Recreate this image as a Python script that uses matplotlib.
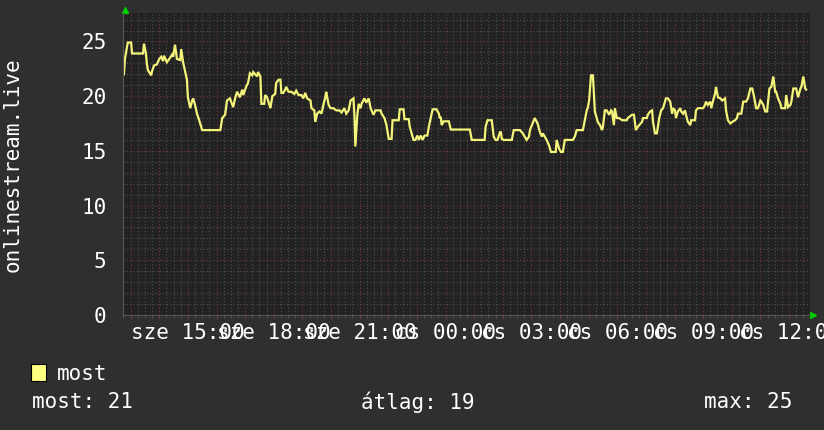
import matplotlib
matplotlib.use('Agg')
import matplotlib.pyplot as plt
from matplotlib.patches import Patch
from matplotlib.ticker import FixedLocator, MultipleLocator

# ---------------- data ----------------
chart_start = 12 * 60 + 44          # chart starts at 12:44 (minutes of day)
chart_span = 24 * 60                # 24 hours shown

minutes_a = [2, 4, 6, 10, 17, 19, 42, 44, 48, 50, 52, 59, 61, 65, 71, 76, 80, 84, 86, 92,
             97, 103, 105, 109, 113, 120, 122, 126, 128, 134, 136, 141, 145, 147, 151, 155, 159, 166, 204, 208,
             214, 218, 224, 231, 235, 239, 245, 250, 252, 258, 262, 266, 271, 273, 281, 283]
users_a = [22.0, 23.4, 23.9, 24.9, 24.9, 23.9, 23.9, 24.8, 23.9, 23.0, 22.4, 21.9, 22.3, 22.8, 22.9, 23.4, 23.6, 23.2, 23.7, 23.1,
           23.4, 23.8, 23.6, 24.7, 23.4, 23.3, 24.3, 23.1, 22.7, 21.5, 19.9, 18.9, 19.6, 19.8, 19.2, 18.4, 17.9, 16.9, 16.9, 18.0,
           18.3, 19.6, 19.8, 19.0, 19.8, 20.4, 19.9, 20.6, 20.1, 20.85, 21.2, 22.1, 21.9, 22.2, 21.8, 22.2]

minutes_b = [288, 290, 296, 298, 302, 309, 313, 319, 321, 326, 330, 332, 336, 340, 342, 347, 353, 359, 363, 368,
             374, 378, 382, 386, 393, 395, 401, 403, 407, 412, 416, 420, 424, 426, 431, 435, 441, 447, 454, 458,
             464, 468, 473, 477, 483, 485, 487, 491, 494, 498, 500, 506, 510, 515, 519, 521, 525, 529, 540, 542,
             548, 552, 557, 563, 565, 578]
users_b = [21.8, 19.3, 19.3, 20.1, 19.9, 18.9, 20.0, 20.2, 21.2, 21.5, 21.5, 20.3, 20.3, 20.6, 20.85, 20.4, 20.4, 20.2, 20.5, 20.1,
           20.1, 19.8, 20.3, 19.8, 19.6, 18.9, 18.7, 17.65, 18.4, 18.6, 18.4, 19.2, 19.9, 20.4, 19.2, 18.9, 18.9, 18.7, 18.7, 18.5,
           18.9, 18.4, 18.7, 19.6, 19.8, 18.4, 15.4, 18.2, 19.3, 18.9, 19.3, 19.8, 19.4, 19.8, 18.9, 18.7, 18.3, 18.7, 18.7, 18.4,
           18.0, 17.4, 16.1, 16.1, 17.8, 17.8]

minutes_c = [580, 588, 590, 599, 601, 609, 613, 617, 620, 624, 628, 632, 638, 641, 645, 649, 657, 662, 664, 666,
             668, 672, 683, 687, 727, 731, 758, 760, 764, 773, 777, 781, 785, 790, 792, 794, 798, 815, 819, 832,
             838, 846, 851, 853, 857, 861]
users_c = [18.8, 18.8, 17.9, 17.9, 17.2, 16.0, 16.0, 16.4, 16.0, 16.4, 16.0, 16.4, 16.4, 17.2, 18.0, 18.8, 18.8, 18.4, 18.0, 18.1,
           17.35, 17.7, 17.7, 16.95, 16.95, 16.0, 16.0, 17.2, 17.8, 17.8, 16.3, 16.0, 16.0, 16.7, 16.7, 16.1, 16.0, 16.0, 16.9, 16.9,
           16.6, 16.0, 16.3, 16.9, 17.35, 17.8]

minutes_d = [863, 869, 874, 878, 880, 884, 888, 893, 897, 907, 909, 914, 918, 922, 926, 943, 947, 951, 964, 968,
             972, 974, 977, 981, 985, 987, 989, 993, 995, 1000, 1004, 1006, 1010, 1014, 1019, 1023, 1025, 1029, 1031, 1035,
             1040, 1046, 1056, 1058, 1067, 1071, 1075, 1079, 1088, 1090, 1098, 1100, 1105, 1109, 1111, 1115, 1119, 1124, 1128, 1132,
             1138, 1142, 1147, 1151, 1153, 1157]
users_d = [18.0, 17.5, 16.7, 16.3, 16.6, 16.3, 16.0, 15.5, 14.9, 14.9, 16.0, 15.2, 14.9, 14.9, 16.0, 16.0, 16.3, 16.9, 16.9, 17.8,
           18.7, 18.9, 19.6, 21.9, 21.9, 20.25, 18.6, 18.0, 17.65, 17.35, 16.9, 17.2, 18.7, 18.7, 18.3, 18.7, 18.6, 17.35, 18.9, 18.0,
           18.0, 17.8, 17.8, 18.0, 18.3, 18.3, 16.9, 17.2, 17.65, 18.0, 18.0, 18.3, 18.6, 18.7, 17.65, 16.6, 16.6, 18.0, 18.7, 18.9,
           19.8, 19.8, 19.5, 18.4, 18.9, 18.7]

minutes_e = [1159, 1163, 1168, 1170, 1174, 1178, 1180, 1184, 1189, 1191, 1199, 1201, 1205, 1216, 1220, 1222, 1226, 1231, 1233, 1237,
             1241, 1243, 1247, 1252, 1256, 1262, 1264, 1268, 1273, 1277, 1283, 1287, 1289, 1296, 1300, 1306, 1310, 1315, 1319, 1323,
             1327, 1331, 1336, 1338, 1342, 1346, 1350, 1355, 1359, 1363, 1367, 1369, 1373, 1378, 1380, 1388, 1390, 1394, 1399, 1401,
             1405, 1411, 1415, 1420, 1422, 1426, 1430, 1432]
users_e = [18.0, 18.6, 18.9, 18.6, 18.4, 18.7, 18.3, 17.65, 17.35, 17.8, 17.8, 18.7, 18.9, 18.9, 19.2, 19.5, 19.2, 19.5, 18.9, 19.6,
           20.25, 20.85, 19.9, 19.8, 19.6, 19.8, 18.7, 17.8, 17.5, 17.65, 17.8, 18.0, 18.4, 18.4, 19.5, 19.5, 19.8, 20.7, 20.7, 19.9,
           18.9, 18.9, 19.6, 19.5, 19.2, 18.6, 18.6, 20.7, 20.85, 21.8, 20.4, 20.4, 19.8, 19.3, 18.9, 18.9, 20.1, 19.0, 19.2, 19.5,
           20.7, 20.7, 19.9, 20.7, 20.85, 21.8, 20.7, 20.6]

label_hours = [15, 18, 21, 24, 27, 30, 33, 36]
label_texts = ['sze 15:00', 'sze 18:00', 'sze 21:00', 'cs 00:00',
               'cs 03:00', 'cs 06:00', 'cs 09:00', 'cs 12:00']
y_ticks = [0, 5, 10, 15, 20, 25]
y_top = 27.6

series_name = 'most'
axis_title = 'onlinestream.live'
stat_labels = ['most', 'átlag', 'max']
stat_values = [21, 19, 25]

# ---------------- style ----------------
BG = '#2f2f2f'
CANVAS = '#222222'
MINOR = '#505050'
MAJOR = '#6e3a3a'
LINE = '#f4f47a'
TXT = '#ffffff'
FONT = 'DejaVu Sans Mono'
FS = 15

minutes = minutes_a + minutes_b + minutes_c + minutes_d + minutes_e
users = users_a + users_b + users_c + users_d + users_e

fig = plt.figure(figsize=(8.24, 4.30), dpi=100, facecolor=BG)
W, H = 824, 430
ax = fig.add_axes([123 / W, 115 / H, 687 / W, 302 / H])
ax.set_facecolor(CANVAS)

ax.set_xlim(0, chart_span)
ax.set_ylim(0, y_top)

# time ticks
hour_pos = [h * 60 - chart_start for h in range(13, 37)]
quarter_pos = [q for q in range(1, chart_span, 15) if q not in hour_pos]
label_pos = [h * 60 - chart_start for h in label_hours]
ax.xaxis.set_major_locator(FixedLocator(hour_pos))
ax.xaxis.set_minor_locator(FixedLocator(quarter_pos))
lab_map = dict(zip(label_pos, label_texts))
ax.set_xticklabels([lab_map.get(p, '') for p in hour_pos])

ax.yaxis.set_major_locator(FixedLocator(y_ticks))
ax.yaxis.set_minor_locator(MultipleLocator(1))

ax.grid(which='minor', color=MINOR, linestyle=(0, (1, 2)), linewidth=0.8)
ax.grid(which='major', color=MAJOR, linestyle=(0, (1, 2)), linewidth=0.8)
ax.set_axisbelow(True)

ax.tick_params(axis='x', which='major', colors=MAJOR, length=3, width=0.8,
               labelcolor=TXT, labelsize=FS, pad=3)
ax.tick_params(axis='x', which='minor', colors=MINOR, length=2, width=0.8)
ax.tick_params(axis='y', which='major', length=0, labelcolor=TXT, labelsize=FS, pad=12)
ax.tick_params(axis='y', which='minor', length=0)
for lab in ax.get_xticklabels() + ax.get_yticklabels():
    lab.set_fontfamily(FONT)

for side in ['top', 'right']:
    ax.spines[side].set_visible(False)
for side in ['left', 'bottom']:
    ax.spines[side].set_color('#555555')
    ax.spines[side].set_linewidth(0.8)

ax.plot(minutes, users, color=LINE, linewidth=1.6, solid_joinstyle='miter')

# axis arrows
ax.plot([0.003], [1.01], marker='^', color='#00cc00', markersize=5,
        transform=ax.transAxes, clip_on=False)
ax.plot([1.005], [0.0], marker='>', color='#00cc00', markersize=5,
        transform=ax.transAxes, clip_on=False)

fig.text(13 / W, 1 - 165 / H, axis_title, rotation=90, color=TXT,
         fontsize=FS, family=FONT, ha='center', va='center')

leg = fig.legend(handles=[Patch(facecolor='#ffff80', edgecolor='black', linewidth=0.8)],
                 labels=[series_name], loc='center left',
                 bbox_to_anchor=(31 / W, 1 - 374 / H), frameon=False,
                 handlelength=0.7, handleheight=0.85, handletextpad=0.55,
                 borderpad=0, borderaxespad=0,
                 prop={'family': FONT, 'size': FS})
for t in leg.get_texts():
    t.set_color(TXT)

y_stat = 1 - 402 / H
fig.text(32 / W, y_stat, f'{stat_labels[0]}: {stat_values[0]}', color=TXT,
         fontsize=FS, family=FONT, ha='left', va='center')
fig.text(418 / W, y_stat, f'{stat_labels[1]}: {stat_values[1]}', color=TXT,
         fontsize=FS, family=FONT, ha='center', va='center')
fig.text(792 / W, y_stat, f'{stat_labels[2]}: {stat_values[2]}', color=TXT,
         fontsize=FS, family=FONT, ha='right', va='center')

fig.savefig('out.png', dpi=100, facecolor=BG)
